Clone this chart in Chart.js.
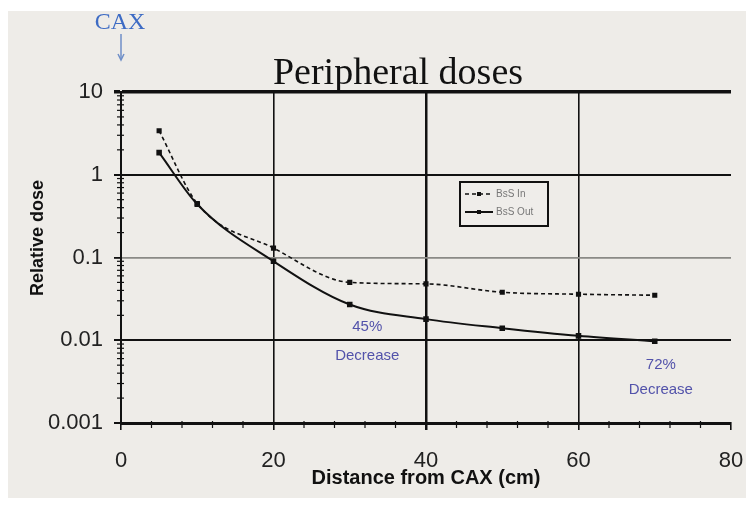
<!DOCTYPE html>
<html>
<head>
<meta charset="utf-8">
<script src="https://cdn.jsdelivr.net/npm/chart.js@4.4.1/dist/chart.umd.min.js"></script>
<style>
  html, body { margin: 0; padding: 0; background: #ffffff; }
  #wrap { position: absolute; left: 0; top: 0; width: 746px; height: 505px; }
  #panel { position: absolute; left: 8px; top: 11px; width: 738px; height: 487px; background: #eeece8; }
</style>
</head>
<body>
<div id="wrap">
  <div id="panel"></div>
  <canvas id="myChart" width="746" height="505" style="position:absolute;left:0;top:0"></canvas>
</div>
<script>
// values
const distances = [5, 10, 20, 30, 40, 50, 60, 70];
const doseIn = [3.4, 0.45, 0.13, 0.05, 0.048, 0.038, 0.036, 0.035];
const doseOut = [1.85, 0.44, 0.09, 0.027, 0.018, 0.014, 0.0113, 0.0097];
const xTicks = [0, 20, 40, 60, 80];
const yTicks = [10, 1, 0.1, 0.01, 0.001];
const seriesNames = ['BsS In', 'BsS Out'];
const notes = [
    { x: 32.3, y: 0.0129, lines: ['45%', 'Decrease'] },
    { x: 70.8, y: 0.0045, lines: ['72%', 'Decrease'] }
];

const AREA = { left: 121, top: 92, right: 731, bottom: 423 };
const SANS = '"Liberation Sans", Arial, sans-serif';

const extrasPlugin = {
    id: 'extras',
    afterDraw(chart) {
        const ctx = chart.ctx;
        const xs = chart.scales.x;
        const ys = chart.scales.y;
        ctx.save();
        // minor ticks on y (log decades)
        ctx.strokeStyle = '#111';
        ctx.lineWidth = 1.2;
        for (let d = 0.001; d < 10; d *= 10) {
            for (let m = 2; m <= 9; m++) {
                const py = ys.getPixelForValue(d * m);
                ctx.beginPath();
                ctx.moveTo(AREA.left - 4, py);
                ctx.lineTo(AREA.left + 3, py);
                ctx.stroke();
            }
        }
        // minor ticks on x every 4 cm
        for (let v = 4; v < 80; v += 4) {
            if (v % 20 === 0) continue;
            const px = xs.getPixelForValue(v);
            ctx.beginPath();
            ctx.moveTo(px, AREA.bottom - 2);
            ctx.lineTo(px, AREA.bottom + 5);
            ctx.stroke();
        }
        // title
        ctx.fillStyle = '#111';
        ctx.font = '38px "Liberation Serif", "DejaVu Serif", serif';
        ctx.textAlign = 'center';
        ctx.textBaseline = 'alphabetic';
        ctx.fillText('Peripheral doses', 398, 84);
        // CAX marker
        ctx.fillStyle = '#3d6bc4';
        ctx.font = '24px "Liberation Serif", serif';
        ctx.fillText('CAX', 120, 29);
        ctx.strokeStyle = '#6f8fc8';
        ctx.lineWidth = 1.5;
        ctx.beginPath();
        ctx.moveTo(121, 34);
        ctx.lineTo(121, 59);
        ctx.stroke();
        ctx.beginPath();
        ctx.moveTo(118, 54);
        ctx.lineTo(121, 60);
        ctx.lineTo(124, 54);
        ctx.stroke();
        // y axis title
        ctx.save();
        ctx.translate(38, 238);
        ctx.rotate(-Math.PI / 2);
        ctx.fillStyle = '#111';
        ctx.font = 'bold 18px ' + SANS;
        ctx.textBaseline = 'middle';
        ctx.fillText('Relative dose', 0, 0);
        ctx.restore();
        // annotations
        ctx.fillStyle = '#5252aa';
        ctx.font = '15px ' + SANS;
        notes.forEach((n, i) => {
            const px = xs.getPixelForValue(n.x);
            const py = ys.getPixelForValue(n.y);
            ctx.fillText(n.lines[0], px, py);
            ctx.fillText(n.lines[1], px, py + (i === 0 ? 29 : 25));
        });
        // legend box
        const lx = 460, ly = 182, lw = 88, lh = 44;
        ctx.fillStyle = '#efedea';
        ctx.fillRect(lx, ly, lw, lh);
        ctx.strokeStyle = '#111';
        ctx.lineWidth = 2;
        ctx.strokeRect(lx, ly, lw, lh);
        chart.data.datasets.forEach((ds, i) => {
            const yy = ly + 12 + i * 18;
            ctx.strokeStyle = '#111';
            ctx.lineWidth = ds.borderWidth;
            ctx.setLineDash(ds.borderDash || []);
            ctx.beginPath();
            ctx.moveTo(lx + 5, yy);
            ctx.lineTo(lx + 33, yy);
            ctx.stroke();
            ctx.setLineDash([]);
            ctx.fillStyle = '#111';
            ctx.fillRect(lx + 17, yy - 2, 4, 4);
            ctx.fillStyle = '#777';
            ctx.font = '10px ' + SANS;
            ctx.textAlign = 'left';
            ctx.textBaseline = 'middle';
            ctx.fillText(ds.label, lx + 36, yy);
        });
        ctx.restore();
    }
};

function xy(xsArr, ysArr) {
    return xsArr.map((v, i) => ({ x: v, y: ysArr[i] }));
}

const ctx = document.getElementById('myChart').getContext('2d');
const myChart = new Chart(ctx, {
    type: 'line',
    data: {
        datasets: [{
            label: seriesNames[0],
            data: xy(distances, doseIn),
            borderColor: '#111',
            backgroundColor: '#111',
            borderWidth: 1.6,
            borderDash: [4, 3],
            pointRadius: 2.5,
            pointStyle: 'rect',
            cubicInterpolationMode: 'monotone'
        }, {
            label: seriesNames[1],
            data: xy(distances, doseOut),
            borderColor: '#111',
            backgroundColor: '#111',
            borderWidth: 2,
            pointRadius: 2.5,
            pointStyle: 'rect',
            cubicInterpolationMode: 'monotone'
        }]
    },
    options: {
        responsive: false,
        animation: false,
        layout: { padding: { top: AREA.top, right: 746 - AREA.right, left: 0, bottom: 0 } },
        plugins: {
            legend: { display: false },
            tooltip: { enabled: false }
        },
        scales: {
            x: {
                type: 'linear',
                min: 0,
                max: 80,
                afterBuildTicks: (scale) => { scale.ticks = xTicks.map(v => ({ value: v })); },
                afterFit: (scale) => {
                    scale.height = 505 - AREA.bottom;
                    scale.paddingLeft = 0;
                    scale.paddingRight = 0;
                },
                border: { color: '#111', width: 3 },
                grid: {
                    color: (c) => (c.tick && (c.tick.value === 0 || c.tick.value === 80)) ? 'rgba(0,0,0,0)' : '#111',
                    lineWidth: (c) => (c.tick && c.tick.value === 40) ? 2.5 : 1.6,
                    tickColor: '#111',
                    tickLength: 7
                },
                ticks: {
                    color: '#222',
                    padding: 18,
                    font: { family: SANS, size: 22 },
                    maxRotation: 0
                },
                title: {
                    display: true,
                    text: 'Distance from CAX (cm)',
                    color: '#111',
                    font: { family: SANS, size: 20, weight: 'bold' },
                    padding: { top: 0, bottom: 15 }
                }
            },
            y: {
                type: 'logarithmic',
                min: 0.001,
                max: 10,
                afterBuildTicks: (scale) => { scale.ticks = yTicks.map(v => ({ value: v })); },
                afterFit: (scale) => { scale.width = AREA.left; },
                border: { color: '#111', width: 2 },
                grid: {
                    color: (c) => {
                        const v = c.tick && c.tick.value;
                        if (v === 0.1) return '#8a8a86';
                        if (v === 0.001) return 'rgba(0,0,0,0)';
                        return '#111';
                    },
                    lineWidth: (c) => {
                        const v = c.tick && c.tick.value;
                        if (v === 10) return 3.5;
                        if (v === 0.1) return 1.8;
                        return 2;
                    },
                    tickColor: '#111',
                    tickLength: 7
                },
                ticks: {
                    color: '#222',
                    padding: 11,
                    font: { family: SANS, size: 22 },
                    callback: (v) => String(v)
                }
            }
        }
    },
    plugins: [extrasPlugin]
});
</script>
</body>
</html>
